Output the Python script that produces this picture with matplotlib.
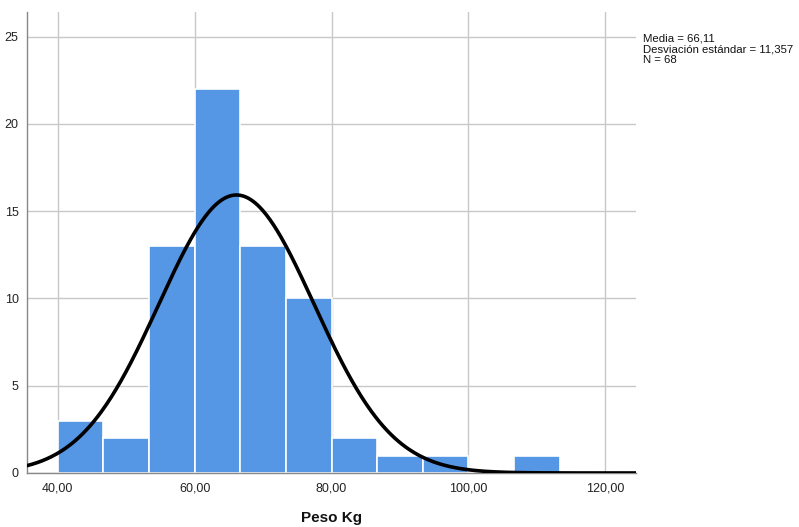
import numpy as np
import matplotlib
matplotlib.use("Agg")
import matplotlib.pyplot as plt

plt.rcParams['font.family'] = ['Liberation Sans', 'DejaVu Sans']

# Data
counts = [3, 2, 13, 22, 13, 10, 2, 1, 1, 0, 1]
bin_start = 40.0
bin_width = 20.0 / 3.0
mean = 66.11
sd = 11.357
n = 68
x_ticks = [40, 60, 80, 100, 120]
x_tick_labels = ["40,00", "60,00", "80,00", "100,00", "120,00"]
y_ticks = [0, 5, 10, 15, 20, 25]
stats_text = "Media = 66,11\nDesviación estándar = 11,357\nN = 68"

edges = bin_start + bin_width * np.arange(len(counts) + 1)

fig = plt.figure(figsize=(7.99, 5.27), dpi=100)
ax = fig.add_axes([0.0338, 0.1025, 0.7622, 0.8745])

ax.bar(edges[:-1], counts, width=bin_width, align='edge', color='#5596e5',
       edgecolor='white', linewidth=1.2, zorder=2)

xs = np.linspace(35.5, 124.5, 500)
ys = n * bin_width / (sd * np.sqrt(2 * np.pi)) * np.exp(-0.5 * ((xs - mean) / sd) ** 2)
ax.plot(xs, ys, color='black', linewidth=2.6, zorder=3)

ax.set_xlim(35.5, 124.5)
ax.set_ylim(0, 26.4)
ax.set_xticks(x_ticks)
ax.set_xticklabels(x_tick_labels)
ax.set_yticks(y_ticks)
ax.grid(True, color='#c8c8c8', linewidth=1.0, zorder=0)
ax.set_axisbelow(True)
for s in ['top', 'right']:
    ax.spines[s].set_visible(False)
for s in ['left', 'bottom']:
    ax.spines[s].set_color('#888888')
    ax.spines[s].set_linewidth(1.0)
ax.tick_params(length=0, labelsize=9, colors='#222222', pad=7)
ax.tick_params(axis='y', pad=6)

fig.text(0.5 * (27 + 636) / 799, 1 - 518 / 527, "Peso Kg", fontsize=11,
         fontweight='bold', ha='center', va='center', color='#111111')

fig.text(643 / 799, 1 - 34 / 527, stats_text, fontsize=8.2, va='top', ha='left',
         linespacing=1.08, color='#111111')

fig.savefig("out.png", dpi=100)
